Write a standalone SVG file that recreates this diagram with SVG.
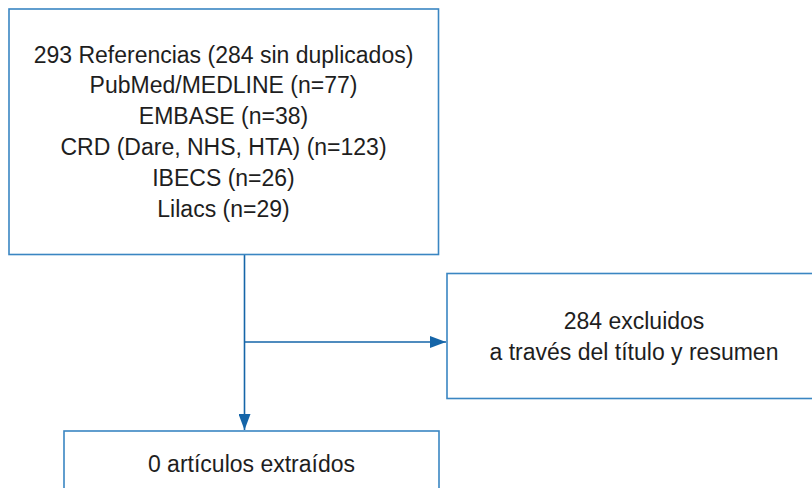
<svg xmlns="http://www.w3.org/2000/svg" width="812" height="488" viewBox="0 0 812 488">
<style>
.box{fill:#ffffff;stroke:#3a86c2;stroke-width:1.6}
.t{font-family:"Liberation Sans",Arial,sans-serif;font-size:23px;fill:#1e1e1e;text-anchor:middle}
.c{fill:none;stroke:#1565a8;stroke-width:1.6}
</style>
<defs>
<marker id="arr" viewBox="0 0 16 12" refX="16" refY="6" markerWidth="16" markerHeight="12" markerUnits="userSpaceOnUse" orient="auto">
<path d="M0,0 L16,6 L0,12 Z" fill="#1565a8"/>
</marker>
</defs>
<rect width="812" height="488" fill="#ffffff"/>
<g id="connectors">
<path class="c" d="M244.5,255 V430" marker-end="url(#arr)"/>
<path class="c" d="M244.5,342 H446" marker-end="url(#arr)"/>
</g>
<g id="node-refs">
<rect class="box" x="9" y="9" width="429.5" height="245.5"/>
<text class="t" x="223.5" y="62.5">293 Referencias (284 sin duplicados)</text>
<text class="t" x="223.5" y="93.3">PubMed/MEDLINE (n=77)</text>
<text class="t" x="223.5" y="124.1">EMBASE (n=38)</text>
<text class="t" x="223.5" y="154.9">CRD (Dare, NHS, HTA) (n=123)</text>
<text class="t" x="223.5" y="185.7">IBECS (n=26)</text>
<text class="t" x="223.5" y="216.5">Lilacs (n=29)</text>
</g>
<g id="node-excluded">
<rect class="box" x="447" y="273.5" width="370" height="125"/>
<text class="t" x="634" y="329">284 excluidos</text>
<text class="t" x="634" y="360">a través del título y resumen</text>
</g>
<g id="node-extracted">
<rect class="box" x="64" y="431" width="375" height="70"/>
<text class="t" x="251.5" y="472">0 artículos extraídos</text>
</g>
</svg>
